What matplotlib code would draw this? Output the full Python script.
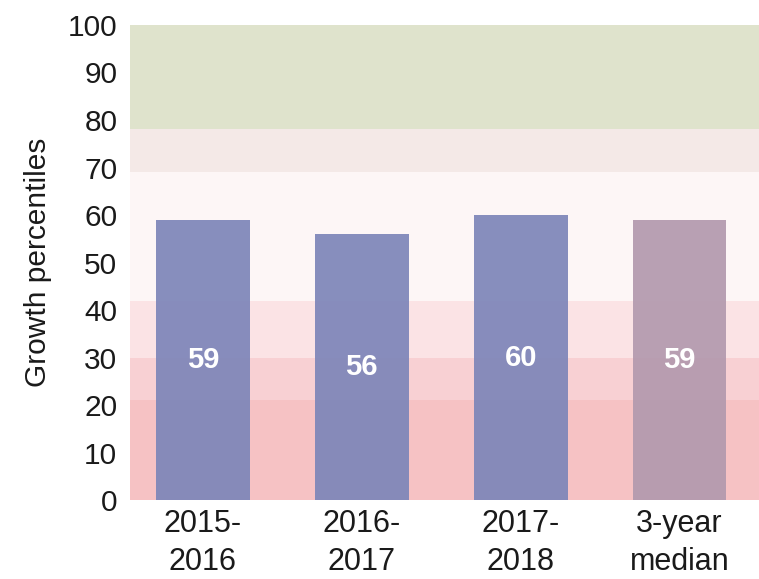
import matplotlib.pyplot as plt

plt.rcParams["font.family"] = ["Liberation Sans", "DejaVu Sans"]

# Data
categories = ["2015-\n2016", "2016-\n2017", "2017-\n2018", "3-year\nmedian"]
values = [59, 56, 60, 59]
bar_colors = ["#7e86b9", "#7e86b9", "#7e86b9", "#b39aae"]

# Background bands (lower, upper, colour)
band_edges = [0, 21, 30, 42, 69, 78, 100]
band_colors = ["#f6c2c4", "#f8d0d3", "#fbe3e5", "#fdf6f6", "#f4e9e7", "#dfe3cc"]

fig = plt.figure(figsize=(7.59, 5.79), dpi=100)
fig.set_facecolor("white")
ax = fig.add_axes([0.171, 0.136, 0.829, 0.821])

# Bands
for lo, hi, c in zip(band_edges[:-1], band_edges[1:], band_colors):
    ax.axhspan(lo, hi, color=c, zorder=0, lw=0)

x = range(len(categories))
bars = ax.bar(x, values, width=0.59, color=bar_colors, alpha=0.93, zorder=2)

for bar, v in zip(bars, values):
    ax.text(
        bar.get_x() + bar.get_width() / 2,
        bar.get_height() / 2,
        f"{v}",
        ha="center",
        va="center",
        color="white",
        fontsize=21,
        fontweight="bold",
        zorder=3,
    )

ax.set_xlim(-0.46, 3.5)
ax.set_ylim(0, 100)
ax.set_yticks(range(0, 101, 10))
ax.set_xticks(list(x))
ax.set_xticklabels(categories, fontsize=22, color="#1a1a1a", linespacing=1.35)
ax.tick_params(axis="y", labelsize=21.5, labelcolor="#1a1a1a", length=0, pad=9)
ax.tick_params(axis="x", length=0, pad=6)
ax.set_ylabel("Growth percentiles", fontsize=21.5, color="#1a1a1a", labelpad=11)

for s in ax.spines.values():
    s.set_visible(False)

fig.savefig("out.png", dpi=100)
